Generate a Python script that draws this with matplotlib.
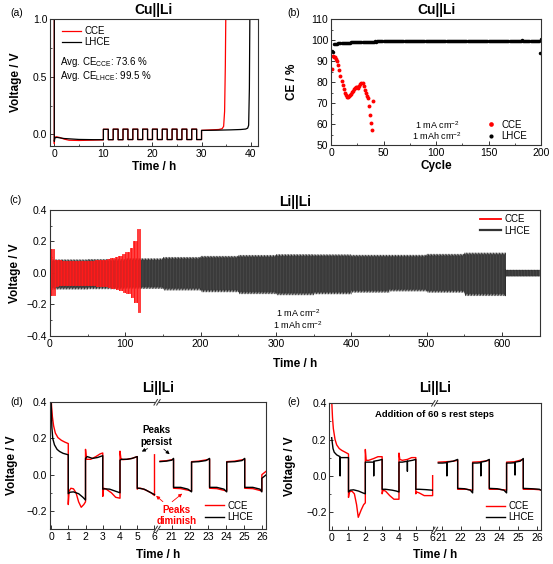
import numpy as np
import matplotlib
matplotlib.use('Agg')
import matplotlib.pyplot as plt
import matplotlib.transforms as mtransforms
from matplotlib.lines import Line2D
from matplotlib.ticker import MultipleLocator, FixedLocator

plt.rcParams['font.family'] = ['Liberation Sans', 'DejaVu Sans']
plt.rcParams['mathtext.fontset'] = 'custom'
plt.rcParams['mathtext.rm'] = 'Liberation Sans'

# ---------------- data ----------------
# (a) Cu||Li, plating 0-10 h, 10 cycles 10-30 h, stripping after 30 h
a_lhce_plate_t = [0, 0, 0.1, 0.5, 2, 5, 8, 10]
a_lhce_plate_v = [1.05, -0.06, -0.03, -0.025, -0.035, -0.043, -0.045, -0.045]
a_cce_plate_t = [0, 0, 0.05, 0.3, 1, 2, 3, 5, 7, 9, 10]
a_cce_plate_v = [1.05, -0.08, -0.03, -0.02, -0.025, -0.04, -0.05, -0.052, -0.05, -0.048, -0.047]
a_cycle_hi = [0.045, 0.046, 0.046, 0.046, 0.046, 0.046, 0.046, 0.046, 0.046, 0.046]
a_cycle_lo = [-0.045, -0.045, -0.044, -0.044, -0.044, -0.044, -0.044, -0.044, -0.044, -0.044]
a_lhce_strip_t = [30, 33, 36, 38, 39, 39.4, 39.6, 39.75, 39.85]
a_lhce_strip_v = [0.035, 0.037, 0.04, 0.043, 0.047, 0.055, 0.08, 0.4, 1.05]
a_cce_strip_t = [30, 32, 33.5, 34.2, 34.5, 34.7, 34.85, 34.95]
a_cce_strip_v = [0.036, 0.04, 0.043, 0.05, 0.07, 0.2, 0.6, 1.05]

# (b) Coulombic efficiency per cycle
b_cce_ce = [86.0, 92.2, 92.0, 91.8, 91.0, 90.0, 88.0, 85.5, 83.0, 80.5,
            78.5, 76.5, 75.0, 73.8, 73.0, 72.8, 73.2, 73.8, 74.5, 75.2,
            75.8, 76.5, 77.0, 77.5, 77.8, 77.3, 78.0, 79.0, 79.7, 79.5,
            78.0, 76.3, 74.8, 73.5, 72.2, 68.5, 64.5, 60.5, 57.0, 70.8]
b_lhce_ce = [94.9, 94.1, 97.9, 98.1, 98.2, 98.3, 98.4, 98.4, 98.5, 98.5,
             98.6, 98.6, 98.7, 98.7, 98.7, 98.8, 98.8, 98.8, 98.9, 98.9,
             98.9, 98.9, 99.0, 99.0, 99.0, 99.0, 99.0, 99.1, 99.0, 99.1,
             99.1, 99.1, 99.1, 99.2, 99.1, 99.2, 99.2, 99.2, 99.2, 99.2,
             99.2, 99.3, 99.2, 99.3, 99.3, 99.3, 99.3, 99.3, 99.3, 99.3,
             99.3, 99.3, 99.4, 99.3, 99.4, 99.3, 99.4, 99.4, 99.4, 99.4,
             99.4, 99.4, 99.4, 99.4, 99.4, 99.4, 99.4, 99.6, 99.4, 99.4,
             99.5, 99.4, 99.5, 99.4, 99.5, 99.5, 99.5, 99.5, 99.5, 99.5,
             99.5, 99.5, 99.5, 99.5, 99.5, 99.5, 99.5, 99.5, 99.5, 99.5,
             99.5, 99.5, 99.5, 99.5, 99.6, 99.5, 99.5, 99.5, 99.6, 99.5,
             99.5, 99.6, 99.5, 99.6, 99.6, 99.5, 99.6, 99.6, 99.6, 99.6,
             99.6, 99.6, 99.6, 99.6, 99.6, 99.6, 99.6, 99.6, 99.6, 99.6,
             99.6, 99.6, 99.6, 99.6, 99.7, 99.6, 99.6, 99.6, 99.6, 99.6,
             99.6, 99.7, 99.6, 99.6, 99.6, 99.7, 99.6, 99.6, 99.6, 99.6,
             99.6, 99.7, 99.6, 99.7, 99.6, 99.7, 99.6, 99.7, 99.7, 99.6,
             99.7, 99.7, 99.7, 99.6, 99.7, 99.7, 99.7, 99.7, 99.7, 99.7,
             99.7, 99.6, 99.7, 99.7, 99.6, 99.7, 99.6, 99.6, 99.6, 99.6,
             99.6, 99.6, 99.6, 99.6, 99.6, 99.5, 99.6, 99.6, 99.6, 99.6,
             99.7, 99.8, 99.6, 99.6, 99.5, 99.6, 99.6, 99.6, 99.5, 99.5,
             99.5, 99.5, 99.4, 99.5, 99.4, 99.5, 99.5, 99.6, 93.6, 100.4]

# (c) Li||Li long cycling: voltage envelopes (tip / plateau) per segment
c_lhce_seg_h = 50
c_lhce_tip_up = [0.085, 0.087, 0.092, 0.100, 0.107, 0.113, 0.118, 0.117, 0.114, 0.114, 0.120, 0.128]
c_lhce_tip_dn = [-0.104, -0.102, -0.100, -0.110, -0.121, -0.133, -0.140, -0.134, -0.124, -0.116, -0.124, -0.145]
c_lhce_pl_up = [0.073, 0.075, 0.080, 0.088, 0.095, 0.100, 0.105, 0.105, 0.102, 0.102, 0.107, 0.115]
c_lhce_pl_dn = [-0.090, -0.088, -0.086, -0.095, -0.106, -0.118, -0.125, -0.120, -0.110, -0.102, -0.110, -0.130]
c_lhce_end = 605
c_tail_up = [0.018]
c_tail_dn = [-0.020]
c_cce_seg_h = 5
c_cce_up = [0.15, 0.085, 0.080, 0.078, 0.077, 0.077, 0.077, 0.077, 0.077, 0.078, 0.078, 0.079,
            0.080, 0.082, 0.085, 0.089, 0.094, 0.100, 0.108, 0.120, 0.135, 0.160, 0.200, 0.280]
c_cce_dn = [-0.14, -0.085, -0.078, -0.076, -0.075, -0.075, -0.075, -0.075, -0.075, -0.076, -0.077, -0.078,
            -0.080, -0.082, -0.085, -0.088, -0.093, -0.100, -0.108, -0.118, -0.130, -0.150, -0.185, -0.250]
c_cce_end = 119

# (d) Li||Li zoomed profiles (time h, voltage V)
d_cce_left = [(0, 0.45), (0.03, 0.38), (0.08, 0.32), (0.15, 0.27), (0.25, 0.23), (0.4, 0.205), (0.6, 0.19),
              (0.8, 0.18), (1.0, 0.172), (1.0, -0.165), (1.05, -0.09), (1.15, -0.075), (1.3, -0.078),
              (1.45, -0.1), (1.6, -0.15), (1.75, -0.18), (1.9, -0.165), (2.0, -0.15), (2.0, 0.14),
              (2.05, 0.085), (2.3, 0.085), (2.6, 0.1), (2.85, 0.115), (3.0, 0.12), (3.0, -0.12),
              (3.05, -0.075), (3.2, -0.08), (3.5, -0.1), (3.75, -0.125), (4.0, -0.13), (4.0, 0.13),
              (4.05, 0.09), (4.15, 0.083), (4.4, 0.085), (4.7, 0.09), (5.0, 0.1), (5.0, -0.08),
              (5.05, -0.075), (5.2, -0.075), (5.5, -0.085), (5.8, -0.1), (6.0, -0.115), (6.0, 0.11)]
d_lhce_left = [(0, 0.42), (0.05, 0.26), (0.1, 0.2), (0.2, 0.165), (0.35, 0.14), (0.5, 0.128), (0.7, 0.118),
               (1.0, 0.11), (1.0, -0.105), (1.1, -0.097), (1.3, -0.095), (1.6, -0.105), (1.85, -0.125),
               (2.0, -0.14), (2.0, 0.09), (2.1, 0.1), (2.4, 0.09), (2.7, 0.095), (3.0, 0.105), (3.0, -0.08),
               (3.1, -0.078), (3.4, -0.08), (3.7, -0.09), (4.0, -0.1), (4.0, 0.08), (4.1, 0.085),
               (4.4, 0.085), (4.7, 0.09), (5.0, 0.1), (5.0, -0.075), (5.1, -0.075), (5.4, -0.08),
               (5.7, -0.095), (6.0, -0.11)]
d_cce_right = [(20.35, 0.075), (20.7, 0.077), (21.1, 0.085), (21.1, -0.075), (21.5, -0.077), (22.1, -0.09),
               (22.1, 0.072), (22.5, 0.075), (23.1, 0.085), (23.1, -0.075), (23.5, -0.077), (24.05, -0.09),
               (24.05, 0.072), (24.5, 0.075), (25.05, 0.085), (25.05, -0.075), (25.5, -0.077), (26.0, -0.09),
               (26.0, 0.0), (26.25, 0.02)]
d_lhce_right = [(20.35, 0.072), (20.7, 0.075), (21.0, 0.08), (21.1, 0.09), (21.1, -0.07), (21.5, -0.07),
                (21.9, -0.08), (22.1, -0.095), (22.1, 0.07), (22.5, 0.072), (22.9, 0.078), (23.1, 0.09),
                (23.1, -0.07), (23.5, -0.07), (23.9, -0.08), (24.05, -0.095), (24.05, 0.07), (24.5, 0.072),
                (24.9, 0.078), (25.05, 0.09), (25.05, -0.07), (25.5, -0.07), (25.9, -0.08), (26.0, -0.095),
                (26.0, -0.02), (26.25, 0.0)]

# (e) same with 60 s rest steps
e_cce_left = [(0, 0.42), (0.05, 0.32), (0.1, 0.26), (0.2, 0.2), (0.3, 0.17), (0.45, 0.15), (0.6, 0.14),
              (0.8, 0.13), (1.0, 0.12), (1.0, -0.12), (1.05, -0.09), (1.2, -0.085), (1.35, -0.1),
              (1.48, -0.16), (1.58, -0.23), (1.75, -0.19), (1.9, -0.16), (2.0, -0.15), (2.0, 0.145),
              (2.05, 0.085), (2.2, 0.085), (2.5, 0.095), (2.75, 0.105), (3.0, 0.105), (3.0, -0.1),
              (3.05, -0.08), (3.2, -0.085), (3.45, -0.11), (3.7, -0.13), (4.0, -0.13), (4.0, 0.125),
              (4.05, 0.09), (4.2, 0.085), (4.5, 0.09), (4.75, 0.1), (5.0, 0.1), (5.0, -0.1), (5.05, -0.09),
              (5.2, -0.095), (5.5, -0.11), (5.75, -0.11), (6.0, -0.11), (6.0, 0.0)]
e_lhce_left = [(0, 0.21), (0.08, 0.15), (0.15, 0.13), (0.3, 0.115), (0.5, 0.105), (0.5, 0.0), (0.5, 0.1),
               (0.7, 0.1), (1.0, 0.1), (1.0, -0.09), (1.1, -0.08), (1.3, -0.078), (1.6, -0.085),
               (1.85, -0.095), (2.0, -0.1), (2.0, 0.075), (2.2, 0.075), (2.5, 0.075), (2.5, 0.0),
               (2.5, 0.08), (2.8, 0.085), (3.0, 0.09), (3.0, -0.075), (3.2, -0.075), (3.6, -0.08),
               (3.85, -0.085), (4.0, -0.09), (4.0, 0.075), (4.2, 0.075), (4.5, 0.08), (4.5, 0.025),
               (4.5, 0.08), (4.8, 0.085), (5.0, 0.09), (5.0, -0.075), (5.2, -0.075), (5.6, -0.077),
               (5.98, -0.08)]
e_cce_right = [(20.83, 0.075), (21.2, 0.077), (21.6, 0.08), (21.84, 0.085), (21.84, -0.075), (22.3, -0.075),
               (22.62, -0.08), (22.62, 0.075), (23.0, 0.077), (23.49, 0.085), (23.49, -0.075), (24.0, -0.075),
               (24.39, -0.08), (24.39, 0.075), (24.8, 0.077), (25.26, 0.09), (25.26, -0.075), (25.8, -0.075),
               (26.18, -0.078)]
e_lhce_right = [(20.83, 0.07), (21.05, 0.07), (21.28, 0.072), (21.28, 0.0), (21.28, 0.075), (21.6, 0.08),
                (21.84, 0.09), (21.84, -0.07), (22.2, -0.072), (22.5, -0.08), (22.62, -0.095), (22.62, 0.07),
                (22.85, 0.07), (23.05, 0.072), (23.05, 0.0), (23.05, 0.075), (23.3, 0.08), (23.49, 0.09),
                (23.49, -0.07), (23.9, -0.072), (24.25, -0.08), (24.39, -0.095), (24.39, 0.07), (24.6, 0.07),
                (24.83, 0.072), (24.83, 0.005), (24.83, 0.075), (25.1, 0.08), (25.26, 0.095), (25.26, -0.07),
                (25.7, -0.072), (26.1, -0.075), (26.18, -0.08)]

left_hours = [0, 1, 2, 3, 4, 5, 6]
right_hours = [21, 22, 23, 24, 25, 26]

RED = '#ff0000'
FRAME = '#333333'


def style(ax):
    for s in ax.spines.values():
        s.set_color(FRAME)
        s.set_linewidth(0.8)
    ax.tick_params(which='both', direction='in', top=False, right=False,
                   color=FRAME, labelsize=7.5)
    ax.tick_params(axis='x', which='both', pad=2.5)
    ax.tick_params(axis='y', which='both', pad=2)
    ax.tick_params(which='major', length=3, width=0.7)
    ax.tick_params(which='minor', length=1.6, width=0.6)


def labels(ax, xl, yl, xy_y, yl_x, title, title_y):
    ax.set_xlabel(xl, fontsize=8.5, fontweight='bold')
    ax.set_ylabel(yl, fontsize=8.5, fontweight='bold')
    ax.xaxis.set_label_coords(0.5, xy_y)
    ax.yaxis.set_label_coords(yl_x, 0.5)
    ax.text(0.5, title_y, title, transform=ax.transAxes, ha='center', va='center',
            fontsize=10, fontweight='bold')


def square_cycles(t0, t1, seg_h, tip_up, tip_dn, pl_up, pl_dn):
    ts, vs = [], []
    t = t0
    while t < t1 - 1e-9:
        k = min(int((t - t0) // seg_h), len(tip_up) - 1)
        th = min(t + 1, t1)
        te = min(t + 2, t1)
        ts += [t, th, th, te]
        vs += [pl_up[k], tip_up[k], pl_dn[k], tip_dn[k]]
        t += 2
    return ts, vs


def broken_x(t, offset, scale):
    t = np.asarray(t, float)
    return np.where(t <= 6.5, t, offset + (t - 21) * scale)


def break_marks(ax, xb):
    tr = mtransforms.blended_transform_factory(ax.transData, ax.transAxes)
    for y in (0, 1):
        ax.plot([xb - 0.1, xb + 0.1], [y, y], transform=tr, color='white', lw=1.6,
                clip_on=False, zorder=5, solid_capstyle='butt')
        for dx in (-0.08, 0.08):
            ax.plot([xb + dx - 0.1, xb + dx + 0.1], [y - 0.022, y + 0.022], transform=tr,
                    color=FRAME, lw=0.7, clip_on=False, zorder=6)


fig = plt.figure(figsize=(5.53, 5.64), dpi=100)

# ---------------- (a) ----------------
ax = fig.add_axes([0.0904, 0.7411, 0.3761, 0.2252])
style(ax)
cyc_t, cyc_v = [], []
for i, (hi, lo) in enumerate(zip(a_cycle_hi, a_cycle_lo)):
    t0 = 10 + 2 * i
    cyc_t += [t0, t0, t0 + 1, t0 + 1, t0 + 2]
    cyc_v += [a_cycle_lo[0] if i == 0 else lo, hi, hi, lo, lo]
ax.plot(a_cce_plate_t + cyc_t + a_cce_strip_t, a_cce_plate_v + cyc_v + a_cce_strip_v,
        color=RED, lw=0.9, label='CCE')
ax.plot(a_lhce_plate_t + cyc_t + a_lhce_strip_t, a_lhce_plate_v + cyc_v + a_lhce_strip_v,
        color='black', lw=0.9, label='LHCE')
ax.set_xlim(-0.88, 41.5)
ax.set_ylim(-0.1, 1.0)
ax.xaxis.set_major_locator(MultipleLocator(10))
ax.xaxis.set_minor_locator(MultipleLocator(5))
ax.yaxis.set_major_locator(MultipleLocator(0.5))
ax.yaxis.set_minor_locator(MultipleLocator(0.25))
labels(ax, 'Time / h', 'Voltage / V', -0.118, -0.135, 'Cu||Li', 1.071)
ax.legend(loc='upper left', bbox_to_anchor=(0.056, 0.945), frameon=False, fontsize=7,
          handlelength=2.0, handletextpad=0.35, labelspacing=0.1, borderpad=0, borderaxespad=0)
ax.text(0.048, 0.661, r'Avg. CE$_\mathregular{CCE}$: 73.6 %', transform=ax.transAxes,
        fontsize=7, va='center')
ax.text(0.048, 0.551, r'Avg. CE$_\mathregular{LHCE}$: 99.5 %', transform=ax.transAxes,
        fontsize=7, va='center')

# ---------------- (b) ----------------
ax = fig.add_axes([0.5986, 0.7429, 0.3797, 0.2234])
style(ax)
ax.plot(np.arange(1, len(b_cce_ce) + 1), b_cce_ce, 'o', color=RED, ms=2.8, mew=0, label='CCE')
ax.plot(np.arange(1, len(b_lhce_ce) + 1), b_lhce_ce, 'o', color='black', ms=2.5, mew=0, label='LHCE')
ax.set_xlim(0, 200)
ax.set_ylim(50, 110)
ax.xaxis.set_major_locator(MultipleLocator(50))
ax.xaxis.set_minor_locator(MultipleLocator(25))
ax.yaxis.set_major_locator(MultipleLocator(10))
ax.yaxis.set_minor_locator(MultipleLocator(5))
labels(ax, 'Cycle', 'CE / %', -0.118, -0.157, 'Cu||Li', 1.071)
ax.legend(loc='upper left', bbox_to_anchor=(0.745, 0.2), frameon=False, fontsize=7,
          handlelength=0.8, handletextpad=0.6, labelspacing=0.15, borderpad=0, borderaxespad=0,
          markerscale=1.2)
ax.text(101, 59.5, r'1 mA cm$^\mathregular{-2}$', fontsize=6.5, ha='center', va='center')
ax.text(101, 54.3, r'1 mAh cm$^\mathregular{-2}$', fontsize=6.5, ha='center', va='center')

# ---------------- (c) ----------------
ax = fig.add_axes([0.0904, 0.4043, 0.8852, 0.2234])
style(ax)
lt, lv = square_cycles(0, c_lhce_end, c_lhce_seg_h, c_lhce_tip_up, c_lhce_tip_dn,
                       c_lhce_pl_up, c_lhce_pl_dn)
tt, tv = square_cycles(c_lhce_end, 650, 100, c_tail_up, c_tail_dn, c_tail_up, c_tail_dn)
ax.plot(lt + tt, lv + tv, color='#2e2e2e', lw=0.5)
ct, cv = square_cycles(0, c_cce_end, c_cce_seg_h, c_cce_up, c_cce_dn, c_cce_up, c_cce_dn)
ax.plot(ct, cv, color='#ff1a1a', lw=0.6)
ax.set_xlim(0, 650)
ax.set_ylim(-0.4, 0.4)
ax.xaxis.set_major_locator(MultipleLocator(100))
ax.xaxis.set_minor_locator(MultipleLocator(50))
ax.yaxis.set_major_locator(MultipleLocator(0.2))
ax.yaxis.set_minor_locator(MultipleLocator(0.1))
labels(ax, 'Time / h', 'Voltage / V', -0.172, -0.059, 'Li||Li', 1.066)
handles = [Line2D([], [], color=RED, lw=1.3), Line2D([], [], color='#333333', lw=1.6)]
ax.legend(handles, ['CCE', 'LHCE'], loc='upper left', bbox_to_anchor=(0.878, 0.966), frameon=False,
          fontsize=7, handlelength=2.2, handletextpad=0.3, labelspacing=0.15, borderpad=0, borderaxespad=0)
ax.text(329, -0.252, r'1 mA cm$^\mathregular{-2}$', fontsize=6.5, ha='center', va='center')
ax.text(329, -0.330, r'1 mAh cm$^\mathregular{-2}$', fontsize=6.5, ha='center', va='center')


def zoom_panel(rect, off, scale, cce_l, lhce_l, cce_r, lhce_r, xlab_y, ylab_x, title_y, xb):
    ax = fig.add_axes(rect)
    style(ax)
    for seg, col, lab in ((cce_l, RED, 'CCE'), (cce_r, RED, None),
                          (lhce_l, 'black', 'LHCE'), (lhce_r, 'black', None)):
        t, v = zip(*seg)
        ax.plot(broken_x(t, off, scale), v, color=col, lw=1.0, label=lab)
    pos = list(broken_x(left_hours, off, scale)) + list(broken_x(right_hours, off, scale))
    ax.xaxis.set_major_locator(FixedLocator(pos))
    ax.set_xticklabels([str(h) for h in left_hours + right_hours])
    ax.set_ylim(-0.3, 0.4)
    ax.yaxis.set_major_locator(MultipleLocator(0.2))
    ax.yaxis.set_minor_locator(MultipleLocator(0.1))
    labels(ax, 'Time / h', 'Voltage / V', xlab_y, ylab_x, 'Li||Li', title_y)
    break_marks(ax, xb)
    return ax


# ---------------- (d) ----------------
ax = zoom_panel([0.0904, 0.0621, 0.3901, 0.2246], 7.0, 1.045,
                d_cce_left, d_lhce_left, d_cce_right, d_lhce_right, -0.158, -0.146, 1.11, 6.15)
ax.set_xlim(-0.06, 12.45)
ax.legend(loc='upper left', bbox_to_anchor=(0.7186, 0.223), frameon=False, fontsize=7,
          handlelength=2.0, handletextpad=0.3, labelspacing=0.15, borderpad=0, borderaxespad=0)
ax.text(6.13, 0.215, 'Peaks\npersist', fontsize=7, fontweight='bold', ha='center', va='center',
        linespacing=1.2)
for tail, head in (((5.74, 0.151), (5.12, 0.121)), ((6.42, 0.151), (7.0, 0.103))):
    ax.annotate('', xy=head, xytext=tail,
                arrowprops=dict(arrowstyle='-|>', color='black', lw=0.6, mutation_scale=5))
ax.text(7.29, -0.226, 'Peaks\ndiminish', fontsize=7, fontweight='bold', color=RED,
        ha='center', va='center', linespacing=1.2)
for tail, head in (((6.61, -0.159), (5.97, -0.107)), ((6.9, -0.159), (7.73, -0.095))):
    ax.annotate('', xy=head, xytext=tail,
                arrowprops=dict(arrowstyle='-|>', color=RED, lw=0.6, mutation_scale=5))

# ---------------- (e) ----------------
ax = zoom_panel([0.5955, 0.0603, 0.3828, 0.2246], 6.53, 1.14,
                e_cce_left, e_lhce_left, e_cce_right, e_lhce_right, -0.15, -0.157, 1.118, 6.12)
ax.set_xlim(-0.14, 12.44)
ax.legend(loc='upper left', bbox_to_anchor=(0.74, 0.229), frameon=False, fontsize=7,
          handlelength=2.0, handletextpad=0.3, labelspacing=0.15, borderpad=0, borderaxespad=0)
ax.text(0.496, 0.914, 'Addition of 60 s rest steps', transform=ax.transAxes, fontsize=6.8,
        fontweight='bold', ha='center', va='center')

# panel letters
for lab, x, y in (('(a)', 0.0302, 0.9764), ('(b)', 0.532, 0.9764), ('(c)', 0.0288, 0.6454),
                  ('(d)', 0.0302, 0.2867), ('(e)', 0.532, 0.2867)):
    fig.text(x, y, lab, fontsize=7.5, ha='center', va='center')

fig.savefig('out.png', dpi=100)
